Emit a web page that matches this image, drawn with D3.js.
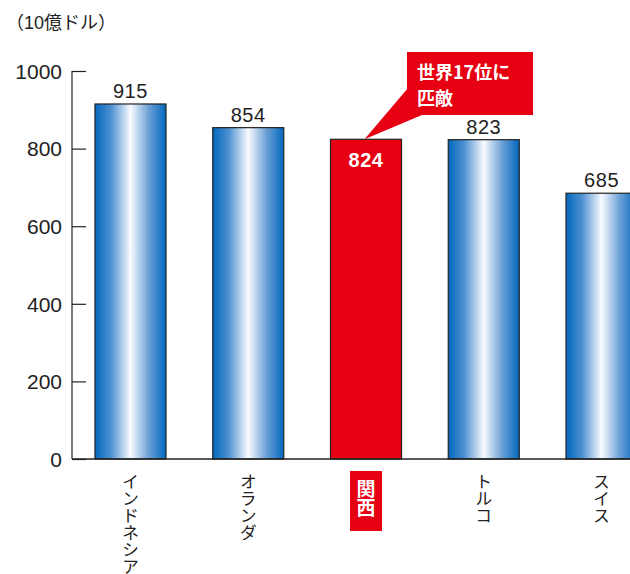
<!DOCTYPE html>
<html>
<head>
<meta charset="utf-8">
<script src="https://cdn.jsdelivr.net/npm/d3@7"></script>
<style>
  body { margin: 0; background: #fff; }
  svg { display: block; }
  text { font-family: "Liberation Sans", "Noto Sans CJK JP", sans-serif; fill: #222; }
</style>
</head>
<body>
<svg id="chart" width="630" height="574"></svg>
<script>
var categories = ['インドネシア', 'オランダ', '関西', 'トルコ', 'スイス'];
var values = [915, 854, 824, 823, 685];
var yTicks = [0, 200, 400, 600, 800, 1000];
var highlight = '関西';
var unitLabel = '（10億ドル）';
var calloutLines = ['世界17位に', '匹敵'];

var svg = d3.select('#chart');
var RED = '#e60012';

var x = d3.scaleBand()
    .domain(categories)
    .range([72, 660])
    .paddingInner(0.397)
    .paddingOuter(0.195);

var y = d3.scaleLinear()
    .domain([0, 1000])
    .range([459, 71]);

// gradient for the blue bars
var grad = svg.append('defs').append('linearGradient')
    .attr('id', 'barGrad')
    .attr('x1', '0%').attr('x2', '100%')
    .attr('y1', '0%').attr('y2', '0%');
grad.append('stop').attr('offset', '0%').attr('stop-color', '#0368be');
grad.append('stop').attr('offset', '22%').attr('stop-color', '#4b8fd0');
grad.append('stop').attr('offset', '50%').attr('stop-color', '#f8fbff');
grad.append('stop').attr('offset', '76%').attr('stop-color', '#6a9fd6');
grad.append('stop').attr('offset', '100%').attr('stop-color', '#0368be');

// unit label
svg.append('text')
    .attr('x', 6)
    .attr('y', 29)
    .style('font-size', '18px')
    .text(unitLabel);

// y axis
var yAxis = d3.axisRight(y)
    .tickValues(yTicks)
    .tickSize(14)
    .tickFormat(function (d) { return d; });

var gy = svg.append('g')
    .attr('transform', 'translate(72,0)')
    .call(yAxis);
gy.select('.domain').remove();
gy.selectAll('.tick line').attr('stroke', '#222').attr('stroke-width', 1.2);
gy.selectAll('.tick text')
    .attr('x', -10)
    .attr('dy', '0.35em')
    .style('text-anchor', 'end')
    .style('font-size', '21px')
    .style('font-family', '"Liberation Sans", sans-serif')
    .attr('fill', '#222');

svg.append('line')
    .attr('x1', 72).attr('x2', 72)
    .attr('y1', y(1000)).attr('y2', y(0))
    .attr('stroke', '#222').attr('stroke-width', 1.2);

// bars
var data = categories.map(function (c, i) {
    return {name: c, value: values[i]};
});

svg.selectAll('rect.bar')
    .data(data)
    .enter()
    .append('rect')
    .attr('class', 'bar')
    .attr('x', function (d) { return x(d.name); })
    .attr('y', function (d) { return y(d.value); })
    .attr('width', x.bandwidth())
    .attr('height', function (d) { return y(0) - y(d.value); })
    .attr('fill', function (d) {
        return d.name === highlight ? RED : 'url(#barGrad)';
    })
    .attr('stroke', '#222')
    .attr('stroke-width', 1.2);

// x axis baseline
svg.append('line')
    .attr('x1', 72).attr('x2', 630)
    .attr('y1', y(0)).attr('y2', y(0))
    .attr('stroke', '#222').attr('stroke-width', 1.5);

// value labels
svg.selectAll('text.val')
    .data(data)
    .enter()
    .append('text')
    .attr('class', 'val')
    .attr('x', function (d) { return x(d.name) + x.bandwidth() / 2; })
    .attr('y', function (d) {
        return d.name === highlight ? y(d.value) + 28 : y(d.value) - 6;
    })
    .style('text-anchor', 'middle')
    .style('font-size', '20px')
    .style('font-weight', function (d) { return d.name === highlight ? 'bold' : 'normal'; })
    .style('letter-spacing', '0.6px')
    .style('fill', function (d) { return d.name === highlight ? '#fff' : '#222'; })
    .text(function (d) { return d.value; });

// highlight box behind the category label
var hx = x(highlight) + x.bandwidth() / 2;
svg.append('rect')
    .attr('x', hx - 16)
    .attr('y', 471)
    .attr('width', 32)
    .attr('height', 60)
    .attr('fill', RED);

// vertical category labels
svg.selectAll('text.cat')
    .data(data)
    .enter()
    .append('text')
    .attr('class', 'cat')
    .attr('x', function (d) { return x(d.name) + x.bandwidth() / 2; })
    .attr('y', function (d) { return d.name === highlight ? 479 : 473; })
    .style('writing-mode', 'vertical-rl')
    .style('text-orientation', 'upright')
    .style('text-anchor', 'start')
    .style('font-size', function (d) { return d.name === highlight ? '19px' : '17px'; })
    .style('font-weight', function (d) { return d.name === highlight ? 'bold' : 'normal'; })
    .style('font-family', '"Noto Sans CJK JP", sans-serif')
    .style('fill', function (d) { return d.name === highlight ? '#fff' : '#222'; })
    .text(function (d) { return d.name; });

// callout
var tipX = x(highlight) + 34;
var tipY = y(824);
svg.append('path')
    .attr('d', 'M' + tipX + ',' + tipY + ' L408,88 L408,115 L422,115 Z')
    .attr('fill', RED);
svg.append('rect')
    .attr('x', 407)
    .attr('y', 52)
    .attr('width', 126)
    .attr('height', 63)
    .attr('fill', RED);

svg.append('text')
    .attr('class', 'callout')
    .style('font-size', '18px')
    .style('font-weight', 'bold')
    .style('font-family', '"Noto Sans CJK JP", sans-serif')
    .style('fill', '#fff')
    .selectAll('tspan')
    .data(calloutLines)
    .enter()
    .append('tspan')
    .attr('x', 417)
    .attr('y', function (d, i) { return 79 + i * 26; })
    .text(function (d) { return d; });
</script>
</body>
</html>
